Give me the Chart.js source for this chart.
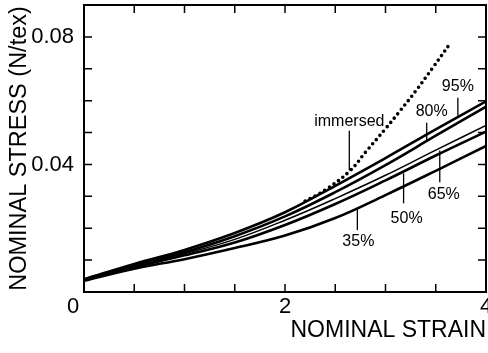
<!DOCTYPE html>
<html>
<head>
<meta charset="utf-8">
<script src="https://cdn.jsdelivr.net/npm/chart.js@4.4.0/dist/chart.umd.min.js"></script>
<style>
  body { margin: 0; background: #fff; }
  canvas { display: block; }
</style>
</head>
<body>
<canvas id="chart" width="488" height="353"></canvas>
<script>
// ===== DATA =====
const strain = [0, 0.5, 1, 1.5, 2, 2.5, 3, 3.5, 4];
const rh95 = [0.0040, 0.0088, 0.0132, 0.0185, 0.0250, 0.0333, 0.0420, 0.0510, 0.0598];
const rh80 = [0.0040, 0.0085, 0.0125, 0.0175, 0.0237, 0.0313, 0.0398, 0.0490, 0.0581];
const rh65 = [0.0040, 0.0080, 0.0120, 0.0165, 0.0225, 0.0293, 0.0366, 0.0445, 0.0522];
const rh50 = [0.0038, 0.0078, 0.0115, 0.0155, 0.0210, 0.0276, 0.0350, 0.0428, 0.0503];
const rh35 = [0.0035, 0.0073, 0.0103, 0.0138, 0.0177, 0.0232, 0.0304, 0.0380, 0.0458];

const immersedStrain = [2.2, 2.4, 2.65, 2.8, 3.0, 3.15, 3.3, 3.47, 3.64];
const immersedStress = [0.0285, 0.0320, 0.0381, 0.0438, 0.0512, 0.0570, 0.0630, 0.0703, 0.0778];

const xTickLabels = ["0", "2", "4"];
const yTickLabels = ["0.04", "0.08"];

// label text, pointer x, pointer top/bottom y, label x/y (data units)
const notes = [
  ["immersed", 2.64, 0.0506, 0.0381, 2.64, 0.0534],
  ["95%", 3.72, 0.0609, 0.0553, 3.72, 0.0644],
  ["80%", 3.41, 0.0531, 0.0470, 3.46, 0.0566],
  ["65%", 3.54, 0.0444, 0.0344, 3.58, 0.0306],
  ["50%", 3.18, 0.0372, 0.0278, 3.21, 0.0231],
  ["35%", 2.72, 0.0263, 0.0194, 2.73, 0.0159]
];

const FONT = "'Liberation Sans', Arial, Helvetica, sans-serif";

function pts(xs, ys) {
  return xs.map((v, i) => ({ x: v, y: ys[i] }));
}

function solid(label, ys, w) {
  return {
    label: label,
    data: pts(strain, ys),
    borderColor: "#000",
    borderWidth: w,
    tension: 0.4,
    pointRadius: 0,
    fill: false
  };
}

// ===== FRAME, TICKS, LABELS =====
const framePlugin = {
  id: "frame",
  afterDatasetsDraw(chart) {
    const { ctx, chartArea: a, scales } = chart;
    const x = scales.x, y = scales.y;
    ctx.save();
    ctx.strokeStyle = "#000";
    ctx.fillStyle = "#000";

    // inward ticks on all sides
    ctx.lineWidth = 1.5;
    ctx.beginPath();
    x.ticks.forEach((t) => {
      const px = x.getPixelForValue(t.value);
      ctx.moveTo(px, a.bottom); ctx.lineTo(px, a.bottom - 8);
      ctx.moveTo(px, a.top); ctx.lineTo(px, a.top + 8);
    });
    y.ticks.forEach((t) => {
      const py = y.getPixelForValue(t.value);
      ctx.moveTo(a.left, py); ctx.lineTo(a.left + 8, py);
      ctx.moveTo(a.right, py); ctx.lineTo(a.right - 8, py);
    });
    ctx.stroke();

    ctx.lineWidth = 2;
    ctx.strokeRect(a.left, a.top, a.right - a.left, a.bottom - a.top);

    // x tick labels (0 sits left of the corner)
    ctx.font = "22px " + FONT;
    ctx.textAlign = "center";
    ctx.textBaseline = "alphabetic";
    xTickLabels.forEach((s) => {
      let px = x.getPixelForValue(parseFloat(s));
      if (s === "0") px -= 11;
      ctx.fillText(s, px, a.bottom + 21);
    });

    // pointer lines + labels
    ctx.lineWidth = 1.3;
    ctx.font = "16px " + FONT;
    ctx.textBaseline = "middle";
    notes.forEach((n) => {
      const px = x.getPixelForValue(n[1]);
      ctx.beginPath();
      ctx.moveTo(px, y.getPixelForValue(n[2]));
      ctx.lineTo(px, y.getPixelForValue(n[3]));
      ctx.stroke();
      ctx.fillText(n[0], x.getPixelForValue(n[4]), y.getPixelForValue(n[5]));
    });
    ctx.restore();
  }
};

new Chart(document.getElementById("chart"), {
  type: "line",
  data: {
    datasets: [
      solid("95%", rh95, 2.6),
      solid("80%", rh80, 2.6),
      solid("65%", rh65, 1.5),
      solid("50%", rh50, 2.6),
      solid("35%", rh35, 2.6),
      {
        label: "immersed",
        data: pts(immersedStrain, immersedStress),
        borderColor: "#000",
        borderWidth: 3.6,
        borderDash: [0, 5.6],
        borderCapStyle: "round",
        tension: 0.4,
        pointRadius: 0,
        fill: false
      }
    ]
  },
  options: {
    responsive: false,
    animation: false,
    layout: { padding: { top: 5, right: 2, left: 0, bottom: 0 } },
    plugins: { legend: { display: false }, tooltip: { enabled: false } },
    scales: {
      x: {
        type: "linear",
        min: 0,
        max: 4,
        border: { display: false },
        grid: { display: false },
        ticks: { display: false, stepSize: 0.5 },
        title: {
          display: true,
          text: "NOMINAL STRAIN",
          align: "end",
          color: "#000",
          font: { family: FONT, size: 23 },
          padding: { top: 0, bottom: 9 }
        },
        afterFit(s) { s.height = 61; s.paddingLeft = 0; s.paddingRight = 0; }
      },
      y: {
        type: "linear",
        min: 0,
        max: 0.09,
        border: { display: false },
        grid: { display: false },
        ticks: {
          stepSize: 0.01,
          autoSkip: false,
          padding: 2,
          color: "#000",
          font: { family: FONT, size: 22 },
          callback: (v) => {
            const s = yTickLabels.find((l) => Math.abs(parseFloat(l) - v) < 1e-6);
            return s || "";
          }
        },
        title: {
          display: true,
          text: "NOMINAL STRESS (N/tex)",
          color: "#000",
          font: { family: FONT, size: 23.5 },
          padding: { top: 5, bottom: 0 }
        },
        afterFit(s) { s.width = 84; s.paddingTop = 0; s.paddingBottom = 0; }
      }
    }
  },
  plugins: [framePlugin]
});
</script>
</body>
</html>
